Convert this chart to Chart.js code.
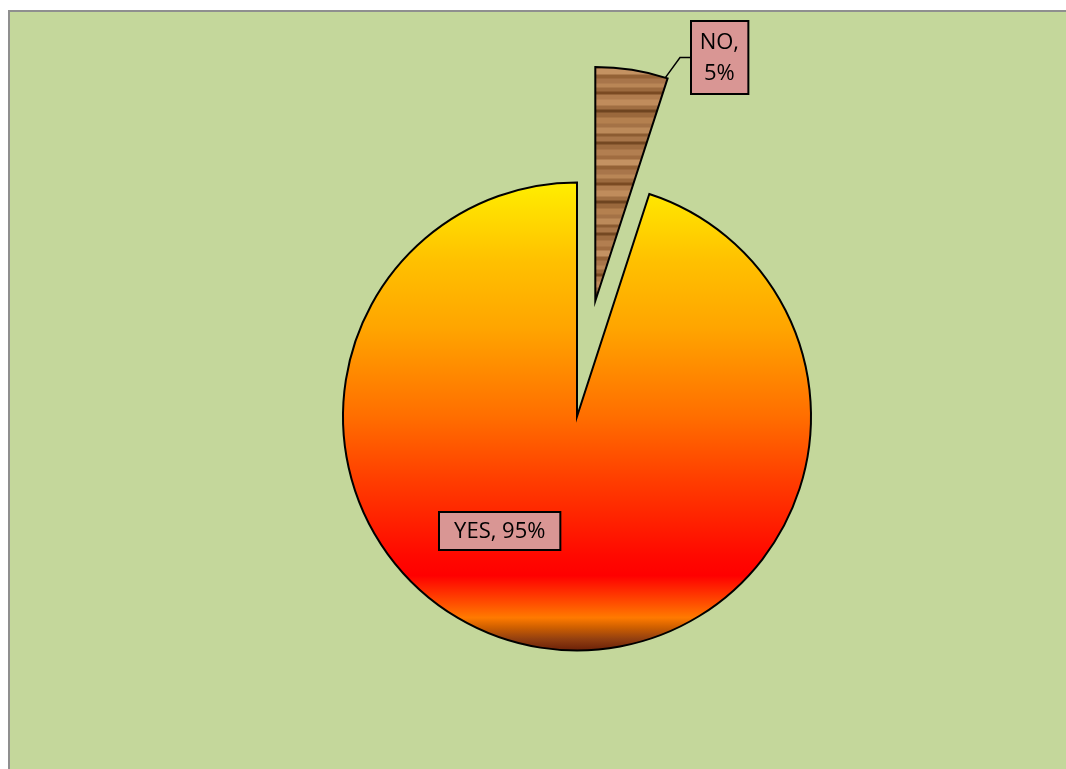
<!DOCTYPE html>
<html>
<head>
<meta charset="utf-8">
<title>YES / NO</title>
<script src="https://cdn.jsdelivr.net/npm/chart.js@4.4.1/dist/chart.umd.min.js"></script>
<style>
    html, body { margin: 0; padding: 0; background: #ffffff; }
    #frame {
        position: absolute;
        left: 8px;
        top: 10px;
        width: 1058px;
        height: 759px;
        box-sizing: border-box;
        border-left: 2px solid #8f8f8f;
        border-top: 2px solid #8f8f8f;
        background: #c4d79b;
    }
    #pieChart { display: block; }
</style>
</head>
<body>
<div id="frame"><canvas id="pieChart" width="1056" height="757"></canvas></div>
<script>
// Survey answers
const labels = ['YES', 'NO'];
const shares = [95, 5];

// How far each slice is pulled out of the pie, in pixels
const explode = [0, 117];

const PIE_RADIUS = 234;

// Fire-style vertical fill for the big slice
const fireStops = [
    [0.00, '#ffee00'],
    [0.17, '#ffc000'],
    [0.31, '#ffa500'],
    [0.50, '#ff6e00'],
    [0.64, '#ff3c00'],
    [0.80, '#ff0800'],
    [0.84, '#ff0000'],
    [0.90, '#ff5000'],
    [0.93, '#ff7a00'],
    [0.95, '#d06000'],
    [0.975, '#944010'],
    [1.00, '#6a2008']
];

// Wood grain stripes for the small slice (row height, colour)
const woodRows = [
    [5, '#a8754a'], [4, '#b98656'], [4, '#9c6a3e'], [3, '#7a4a22'],
    [5, '#b07c4e'], [6, '#c08c5c'], [4, '#a06e42'], [3, '#6e4420'],
    [5, '#9a683c'], [6, '#b4804f'], [4, '#a47246'], [6, '#bc8a5a'],
    [3, '#8c5c32'], [5, '#a8764a'], [3, '#744822'], [5, '#9e6c40'],
    [6, '#b27e50'], [4, '#a06c40'], [6, '#c49262'], [4, '#946236']
];

function woodPattern() {
    const c = document.createElement('canvas');
    const h = woodRows.reduce((s, r) => s + r[0], 0);
    c.width = 40;
    c.height = h;
    const g = c.getContext('2d');
    let y = 0;
    woodRows.forEach(([rh, col]) => {
        g.fillStyle = col;
        g.fillRect(0, y, 40, rh);
        y += rh;
    });
    return g.createPattern(c, 'repeat');
}

const wood = woodPattern();

function sliceFill(context) {
    if (context.dataIndex === 1) return wood;
    const chart = context.chart;
    const area = chart.chartArea;
    if (!area) return '#ff6e00';
    const cy = (area.top + area.bottom) / 2;
    const grad = chart.ctx.createLinearGradient(0, cy - PIE_RADIUS, 0, cy + PIE_RADIUS);
    fireStops.forEach(([p, c]) => grad.addColorStop(p, c));
    return grad;
}

// Draws each arc shifted outward along its middle angle
const explodedSlices = {
    id: 'explodedSlices',
    beforeDatasetDraw(chart, args) {
        const ctx = chart.ctx;
        args.meta.data.forEach((arc, i) => {
            const mid = (arc.startAngle + arc.endAngle) / 2;
            const d = explode[i] || 0;
            ctx.save();
            ctx.translate(Math.cos(mid) * d, Math.sin(mid) * d);
            arc.draw(ctx, chart.chartArea);
            ctx.restore();
        });
        return false;
    }
};

// Boxed data labels, placed relative to each slice's own centre
const labelPlacement = [
    { fx: -0.33, fy: 0.49, padX: 15, padY: 7, leader: false },
    { fx: 0.53, fy: -1.04, padX: 9, padY: 11, leader: true }
];

const boxLabels = {
    id: 'boxLabels',
    afterDatasetsDraw(chart) {
        const ctx = chart.ctx;
        const meta = chart.getDatasetMeta(0);
        ctx.save();
        ctx.font = '22px "Open Sans", sans-serif';
        ctx.textAlign = 'center';
        ctx.textBaseline = 'middle';
        meta.data.forEach((arc, i) => {
            const p = arc.getProps(['x', 'y', 'startAngle', 'endAngle', 'outerRadius'], true);
            const mid = (p.startAngle + p.endAngle) / 2;
            const ox = p.x + Math.cos(mid) * explode[i];
            const oy = p.y + Math.sin(mid) * explode[i];
            const place = labelPlacement[i];
            const cx = ox + place.fx * p.outerRadius;
            const cy = oy + place.fy * p.outerRadius;

            const lines = place.leader
                ? [labels[i] + ',', shares[i] + '%']
                : [labels[i] + ', ' + shares[i] + '%'];
            const lh = 31;
            const w = Math.max(...lines.map(t => ctx.measureText(t).width)) + place.padX * 2;
            const h = lines.length * lh + place.padY;
            const bx = Math.round(cx - w / 2);
            const by = Math.round(cy - h / 2);

            if (place.leader) {
                const a = p.endAngle - 0.01;
                ctx.beginPath();
                ctx.moveTo(ox + Math.cos(a) * p.outerRadius, oy + Math.sin(a) * p.outerRadius);
                ctx.lineTo(bx - 11, cy);
                ctx.lineTo(bx, cy);
                ctx.strokeStyle = '#000';
                ctx.lineWidth = 1.5;
                ctx.stroke();
            }

            ctx.fillStyle = '#d99694';
            ctx.fillRect(bx, by, w, h);
            ctx.strokeStyle = '#000';
            ctx.lineWidth = 2;
            ctx.strokeRect(bx, by, w, h);

            ctx.fillStyle = '#000';
            lines.forEach((t, k) => {
                ctx.fillText(t, cx, cy + 1 + (k - (lines.length - 1) / 2) * lh);
            });
        });
        ctx.restore();
    }
};

new Chart(document.getElementById('pieChart').getContext('2d'), {
    type: 'pie',
    data: {
        labels: labels,
        datasets: [{
            data: shares,
            backgroundColor: sliceFill,
            borderColor: '#000000',
            borderWidth: 2,
            borderJoinStyle: 'miter',
            hoverOffset: 0
        }]
    },
    options: {
        responsive: false,
        animation: false,
        rotation: 18,
        radius: PIE_RADIUS,
        layout: { padding: { left: 78, top: 52, right: 0, bottom: 0 } },
        plugins: {
            legend: { display: false },
            tooltip: { enabled: false }
        }
    },
    plugins: [explodedSlices, boxLabels]
});
</script>
</body>
</html>
